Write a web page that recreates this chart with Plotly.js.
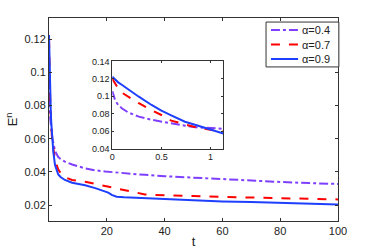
<!DOCTYPE html>
<html><head><meta charset="utf-8">
<script src="https://cdn.plot.ly/plotly-3.0.1.min.js"></script>
<style>html,body{margin:0;padding:0;background:#fff}#c{width:374px;height:249px}</style>
</head><body><div id="c"></div>
<script>
const t = [0,0.03,0.06,0.1,0.16,0.27,0.4,0.5,0.6,0.74,0.85,1.0,1.13,1.5,2.1,3.2,4,5.5,8,12.5,16,19.4,20.5,21.7,23.4,26,28.6,31,33.2,36,40,50,60,70,80,90,100];
const e04 = [0.106,0.095,0.090,0.086,0.0816,0.0766,0.073,0.0708,0.0688,0.0662,0.0645,0.0625,0.0605,0.0575,0.0525,0.049,0.0478,0.0462,0.0445,0.0422,0.0410,0.0403,0.0401,0.0400,0.0397,0.0393,0.0390,0.0386,0.0383,0.0379,0.0375,0.0366,0.0356,0.0348,0.0340,0.0333,0.0328];
const e07 = [0.120,0.114,0.109,0.104,0.0995,0.092,0.084,0.0785,0.072,0.0675,0.0644,0.0615,0.0588,0.054,0.047,0.0415,0.0395,0.0368,0.0352,0.0341,0.0328,0.0315,0.0312,0.0310,0.0303,0.0292,0.0280,0.0272,0.0265,0.0262,0.0259,0.0255,0.0250,0.0246,0.0242,0.0238,0.0235];
const e09 = [0.1225,0.119,0.116,0.113,0.108,0.0995,0.090,0.0834,0.078,0.0708,0.067,0.0615,0.0572,0.052,0.044,0.0385,0.0370,0.0352,0.0335,0.0320,0.0303,0.0284,0.0276,0.0262,0.0251,0.0248,0.0246,0.0244,0.0242,0.0239,0.0235,0.0229,0.0223,0.0219,0.0213,0.0208,0.0204];
const names = ['\u03b1=0.4','\u03b1=0.7','\u03b1=0.9'];
const xTicks = [20,40,60,80,100];
const yTicks = [0.02,0.04,0.06,0.08,0.1,0.12];
const yTickText = ['0.02','0.04','0.06','0.08','0.1','0.12'];
const xTicksIn = [0,0.5,1];
const xTickTextIn = ['0','0.5','1'];
const yTicksIn = [0.04,0.06,0.08,0.1,0.12,0.14];
const yTickTextIn = ['0.04','0.06','0.08','0.1','0.12','0.14'];

const series = [e04,e07,e09];
const colors = ['#7f3fff','#ff0000','#1f3fff'];
const dashes = ['dashdot','dash','solid'];
const traces = [];
series.forEach((s,i)=>{
  traces.push({x:t,y:s,type:'scatter',mode:'lines',name:names[i],showlegend:false,
    line:{color:colors[i],dash:dashes[i],width:2},xaxis:'x',yaxis:'y'});
});
series.forEach((s,i)=>{
  traces.push({x:t,y:s,type:'scatter',mode:'lines',showlegend:false,
    line:{color:colors[i],dash:dashes[i],width:2},xaxis:'x2',yaxis:'y2'});
});
const FONT = 'Liberation Sans, Arial, sans-serif';
const ax = {showline:true,linecolor:'#333',linewidth:1,mirror:'ticks',ticks:'inside',ticklen:3,tickcolor:'#333',showgrid:false,zeroline:false,
  tickfont:{family:FONT,size:11,color:'#222'}};
const axIn = Object.assign({},ax,{tickfont:{family:FONT,size:9,color:'#222'},ticklen:2});

// compact legend box (paper coords of the main plot area)
const legX0 = 0.751, legX1 = 1.003, legY1 = 0.980, legY0 = 0.759;
const rowY = [0.941, 0.869, 0.798];
const shapes = [{type:'rect',xref:'paper',yref:'paper',x0:legX0,x1:legX1,y0:legY0,y1:legY1,
  line:{color:'#333',width:1},fillcolor:'#fff',layer:'above'}];
const annotations = [];
names.forEach((n,i)=>{
  shapes.push({type:'line',xref:'paper',yref:'paper',x0:0.768,x1:0.862,y0:rowY[i],y1:rowY[i],
    line:{color:colors[i],dash:dashes[i]==='dashdot'?'dashdot':dashes[i],width:2},layer:'above'});
  annotations.push({xref:'paper',yref:'paper',x:0.870,y:rowY[i],xanchor:'left',yanchor:'middle',
    text:n,showarrow:false,font:{family:FONT,size:11,color:'#222'}});
});

const layout = {
  width:374,height:249,margin:{l:49,r:36,t:18,b:28},
  paper_bgcolor:'#fff',plot_bgcolor:'#fff',
  font:{family:FONT,color:'#222'},
  xaxis:Object.assign({},ax,{range:[0,100],tickvals:xTicks,domain:[0,1],
    title:{text:'t',font:{size:13},standoff:2}}),
  yaxis:Object.assign({},ax,{range:[0.0105,0.1327],tickvals:yTicks,ticktext:yTickText,domain:[0,1],
    title:{text:'E<sup>n</sup>',font:{size:13},standoff:3}}),
  xaxis2:Object.assign({},axIn,{range:[0,1.13],tickvals:xTicksIn,ticktext:xTickTextIn,domain:[0.219,0.603],anchor:'y2'}),
  yaxis2:Object.assign({},axIn,{range:[0.04,0.14],tickvals:yTicksIn,ticktext:yTickTextIn,domain:[0.357,0.786],anchor:'x2'}),
  shapes:shapes,annotations:annotations,
  showlegend:false
};
Plotly.newPlot('c',traces,layout,{staticPlot:true,displayModeBar:false});
</script></body></html>
